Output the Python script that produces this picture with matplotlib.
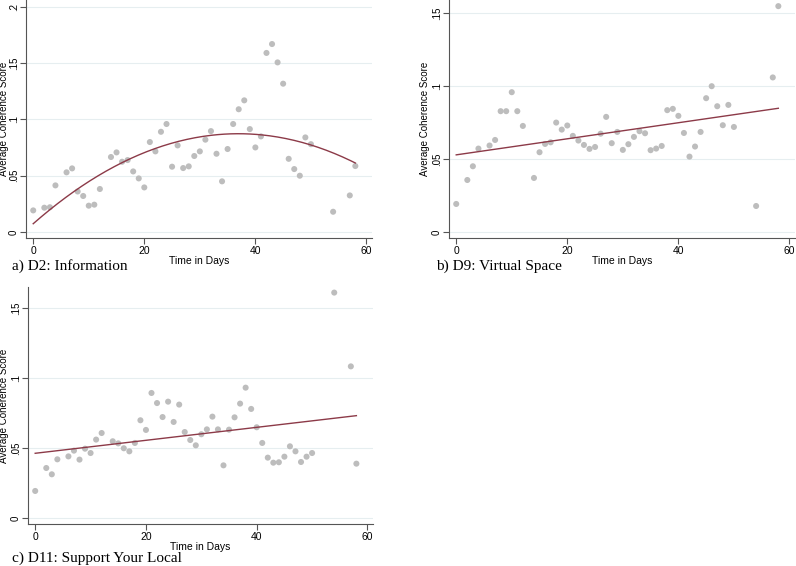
import numpy as np
import matplotlib
matplotlib.use('Agg')
import matplotlib.pyplot as plt

#days that have a score (same for all three panels)
days = [0, 2, 3, 4, 6, 7, 8, 9, 10, 11, 12, 14, 15, 16, 17, 18, 19, 20, 21, 22,
        23, 24, 25, 26, 27, 28, 29, 30, 31, 32, 33, 34, 35, 36, 37, 38, 39, 40,
        41, 42, 43, 44, 45, 46, 47, 48, 49, 50, 54, 57, 58]

#a) D2: Information
d2_info = [0.0192, 0.0216, 0.022, 0.0414, 0.053, 0.0565, 0.036, 0.032, 0.0234, 0.0243,
           0.0382, 0.0666, 0.0707, 0.0624, 0.0639, 0.0538, 0.0476, 0.0396, 0.0799, 0.0716,
           0.089, 0.0959, 0.058, 0.0769, 0.0568, 0.0583, 0.0675, 0.0716, 0.082, 0.0896,
           0.0695, 0.045, 0.0737, 0.0959, 0.109, 0.1169, 0.0914, 0.0751, 0.0849, 0.159,
           0.1669, 0.1506, 0.1317, 0.065, 0.0559, 0.05, 0.084, 0.078, 0.018, 0.0325, 0.0586]

#b) D9: Virtual Space
d9_virtual = [0.0194, 0.0358, 0.0452, 0.0573, 0.0594, 0.0632, 0.0829, 0.0829, 0.0959, 0.0829,
              0.0728, 0.0372, 0.0548, 0.0605, 0.0616, 0.0751, 0.0703, 0.0731, 0.066, 0.0628,
              0.0598, 0.0571, 0.0584, 0.0675, 0.079, 0.061, 0.0687, 0.0564, 0.0603, 0.0653,
              0.0692, 0.0678, 0.0562, 0.0573, 0.0591, 0.0836, 0.0845, 0.0797, 0.068, 0.0518,
              0.0587, 0.0687, 0.0918, 0.1, 0.0863, 0.0733, 0.0872, 0.0721, 0.018, 0.106, 0.1548]

#c) D11: Support Your Local
d11_local = [0.0193, 0.0357, 0.0312, 0.0419, 0.044, 0.0481, 0.0417, 0.0495, 0.0464, 0.056,
             0.0607, 0.0548, 0.0533, 0.0498, 0.0476, 0.0536, 0.0698, 0.0629, 0.0893, 0.0821,
             0.0721, 0.0831, 0.0686, 0.081, 0.0614, 0.0557, 0.0519, 0.0598, 0.0633, 0.0724,
             0.0633, 0.0376, 0.0631, 0.0719, 0.0817, 0.0931, 0.0779, 0.0648, 0.0536, 0.0431,
             0.0395, 0.0398, 0.0438, 0.0512, 0.0476, 0.04, 0.0438, 0.0464, 0.161, 0.1083, 0.0388]

captions = ['a) D2: Information', 'b) D9: Virtual Space', 'c) D11: Support Your Local']

W, H = 796, 566
fig = plt.figure(figsize=(W / 100, H / 100), dpi=100)


def px_axes(l, t, r, b):
    return fig.add_axes([l / W, 1 - b / H, (r - l) / W, (b - t) / H])


def draw_panel(ax, y, deg, yticks, yticklabels, ylim, ylab_px):
    x = np.array(days, dtype=float)
    y = np.array(y)
    ax.scatter(x, y, s=19, color='#bdbdbd', edgecolors='none', zorder=3)
    #fitted line (quadratic for D2, linear for the others)
    coef = np.polyfit(x, y, deg)
    xs = np.linspace(x.min(), x.max(), 200)
    ax.plot(xs, np.polyval(coef, xs), color='#8c3a48', lw=1.0, zorder=4)
    ax.set_xlim(-1.3, 61)
    ax.set_ylim(*ylim)
    ax.set_xticks([0, 20, 40, 60])
    ax.set_yticks(yticks)
    ax.set_yticklabels(yticklabels, rotation=90, va='center')
    for v in yticks:
        ax.axhline(v, color='#e6eef0', lw=0.8, zorder=1)
    for s in ['top', 'right']:
        ax.spines[s].set_visible(False)
    for s in ['left', 'bottom']:
        ax.spines[s].set_color('#555555')
        ax.spines[s].set_linewidth(0.8)
    ax.tick_params(axis='both', labelsize=7, length=4, width=0.8, color='#555555',
                   pad=1, labelfontfamily='Liberation Sans')
    ax.tick_params(axis='x', labelsize=7.5, pad=1.5)
    ax.set_xlabel('Time in Days', fontsize=7.5, family='Liberation Sans', labelpad=0)
    ax.set_ylabel('Average Coherence Score', fontsize=7, family='Liberation Sans')
    #ylabel right edge placed ylab_px pixels left of the spine
    ax.yaxis.set_label_coords(-ylab_px / (ax.get_position().width * W), 0.5)


ax1 = px_axes(26, 0, 372, 238)
draw_panel(ax1, d2_info, 2, [0, 0.05, 0.1, 0.15, 0.2], ['0', '.05', '.1', '.15', '.2'], (-0.0053, 0.206), 17)

ax2 = px_axes(449, 0, 795, 238)
draw_panel(ax2, d9_virtual, 1, [0, 0.05, 0.1, 0.15], ['0', '.05', '.1', '.15'], (-0.0039, 0.159), 19)

ax3 = px_axes(28, 287, 373, 524)
draw_panel(ax3, d11_local, 1, [0, 0.05, 0.1, 0.15], ['0', '.05', '.1', '.15'], (-0.0043, 0.165), 19)

#captions under each panel
fig.text(12 / W, 1 - 266 / H, captions[0], fontsize=11, family='Liberation Serif', va='center')
fig.text(436 / W, 1 - 266 / H, captions[1], fontsize=11, family='Liberation Serif', va='center')
fig.text(12 / W, 1 - 558 / H, captions[2], fontsize=11, family='Liberation Serif', va='center')

fig.savefig('out.png', dpi=100, facecolor='white')
